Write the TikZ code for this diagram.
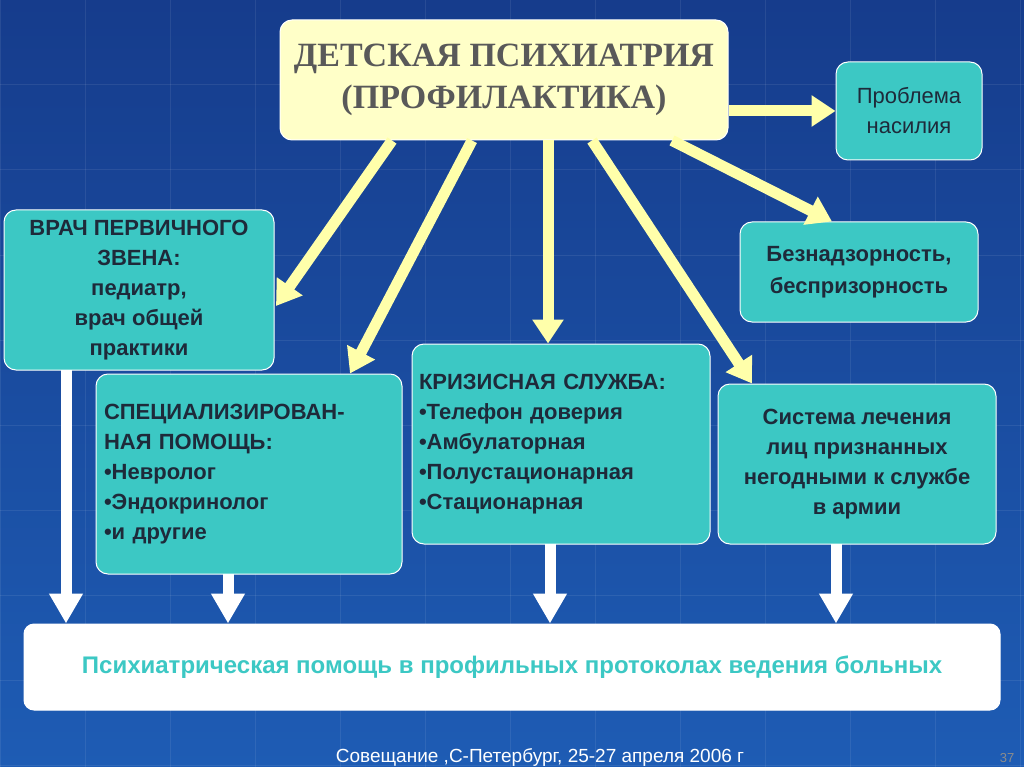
\documentclass[tikz,border=0pt]{standalone}
\usepackage{fontspec}
\setmainfont{Liberation Serif}
\setsansfont{Liberation Sans}
\usetikzlibrary{arrows.meta}
\definecolor{teal1}{HTML}{3CC8C4}
\definecolor{yel}{HTML}{FFFFC8}
\definecolor{arr}{HTML}{FFFFAA}
\definecolor{txt}{HTML}{1E2A3A}
\definecolor{bgt}{HTML}{163C8C}
\definecolor{bgb}{HTML}{1E5CB4}
\begin{document}
\begin{tikzpicture}[x=1pt,y=-1pt,
  box/.style={draw=white,line width=1pt,fill=teal1,rounded corners=12pt,inner sep=0pt,align=center,font=\sffamily\bfseries\fontsize{22}{30}\selectfont,text=txt},
  yarrow/.style={draw=arr,line width=11pt,-{Triangle[width=30pt,length=24pt]}},
  warrow/.style={draw=white,line width=11pt,-{Triangle[width=32pt,length=30pt]}}]
\useasboundingbox (0,0) rectangle (1024,767);
\shade[top color=bgt,bottom color=bgb] (0,0) rectangle (1024,767);
\foreach \i in {0,...,12}{\draw[white,opacity=0.08,line width=1pt] (\i*85,0) -- (\i*85,767);}
\foreach \i in {0,...,9}{\draw[white,opacity=0.08,line width=1pt] (0,\i*85) -- (1024,\i*85);}
\node[box,fill=yel,minimum width=448pt,minimum height=120pt,font=\bfseries\fontsize{34}{42}\selectfont,text=black!65] (t) at (504,80) {ДЕТСКАЯ ПСИХИАТРИЯ\\(ПРОФИЛАКТИКА)};
\node[box,minimum width=146pt,minimum height=98pt,font=\sffamily\fontsize{22}{30}\selectfont] (p) at (909,111) {Проблема\\насилия};
\node[box,minimum width=238pt,minimum height=100pt,font=\sffamily\bfseries\fontsize{22}{32}\selectfont] (b) at (859,272) {Безнадзорность,\\беспризорность};
\node[box,minimum width=270pt,minimum height=160pt] (v) at (139,290) {ВРАЧ ПЕРВИЧНОГО\\ЗВЕНА:\\педиатр,\\врач общей\\практики};
\node[box,minimum width=306pt,minimum height=200pt,align=left,text width=290pt] (s) at (249,474) {СПЕЦИАЛИЗИРОВАН-\\НАЯ ПОМОЩЬ:\\•Невролог\\•Эндокринолог\\•и другие};
\node[box,minimum width=298pt,minimum height=200pt,align=left,text width=284pt] (k) at (561,444) {КРИЗИСНАЯ СЛУЖБА:\\•Телефон доверия\\•Амбулаторная\\•Полустационарная\\•Стационарная\\[22pt]};
\node[box,minimum width=278pt,minimum height=160pt] (c) at (857,464) {Система лечения\\лиц признанных\\негодными к службе\\в армии};
\node[box,fill=white,rounded corners=10pt,minimum width=976pt,minimum height=86pt,text=teal1,font=\sffamily\bfseries\fontsize{24}{28}\selectfont] (w) at (512,667) {Психиатрическая помощь в профильных протоколах ведения больных};
\node[text=white,font=\sffamily\fontsize{19}{22}\selectfont] (f) at (540,757) {Совещание ,С-Петербург, 25-27 апреля 2006 г};
\node[text=black!45,font=\sffamily\fontsize{13}{15}\selectfont] (n) at (1007,758) {37};
\coordinate (a1) at (66,370);
\coordinate (a2) at (228,574);
\coordinate (a3) at (550,544);
\coordinate (a4) at (836,544);
\coordinate (e1) at (276,306);
\draw[yarrow] (t.east|-p.west) -- (p.west);
\draw[yarrow] ([xshift=-112pt]t.south) -- (e1);
\draw[yarrow] ([xshift=-32pt]t.south) -- ([xshift=101pt]s.north);
\draw[yarrow] ([xshift=44pt]t.south) -- ([xshift=-13pt]k.north);
\draw[yarrow] ([xshift=88pt]t.south) -- ([xshift=-105pt]c.north);
\draw[yarrow] ([xshift=168pt]t.south) -- ([xshift=-27pt]b.north);
\draw[warrow] (a1) -- (a1|-w.north);
\draw[warrow] (a2) -- (a2|-w.north);
\draw[warrow] (a3) -- (a3|-w.north);
\draw[warrow] (a4) -- (a4|-w.north);
\end{tikzpicture}
\end{document}
